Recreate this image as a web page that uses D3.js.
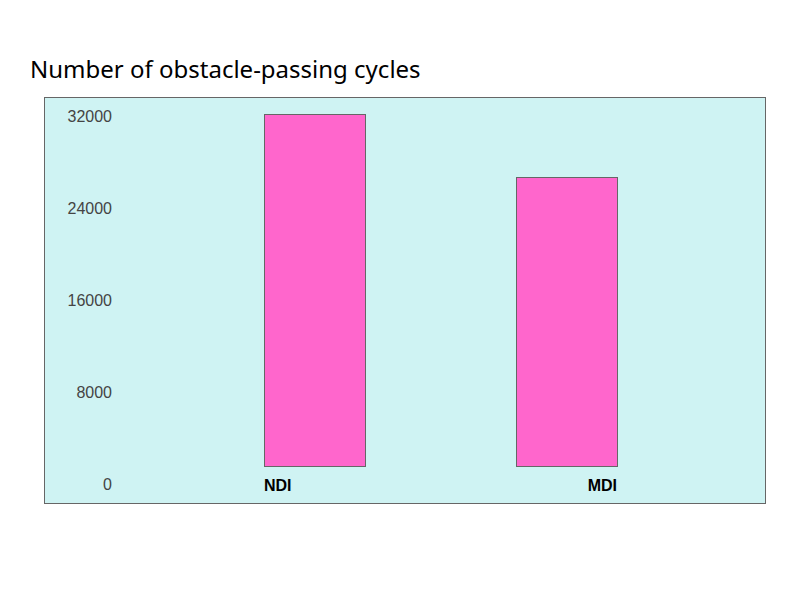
<!DOCTYPE html>
<html>
<head>
<meta charset="utf-8">
<script src="https://cdn.jsdelivr.net/npm/d3@7"></script>
<style>
body { margin: 0; background: #fff; }
</style>
</head>
<body>
<div id="graph"></div>
<script>
var svgWidth = 800;
var svgHeight = 600;

// data
var titleText = "Number of obstacle-passing cycles";
var categories = ["NDI", "MDI"];
var cycles = [30600, 25100];
var yTicks = [0, 8000, 16000, 24000, 32000];

// frame of the plot
var boxLeft = 44, boxTop = 97, boxRight = 765, boxBottom = 503;
var labelFont = "'Liberation Sans', Arial, sans-serif";

var svg = d3.select("#graph")
	.append("svg")
	.attr("width", svgWidth)
	.attr("height", svgHeight);

// title
svg.append("text")
	.attr("x", 30)
	.attr("y", 78)
	.attr("font-family", "'Noto Sans', sans-serif")
	.attr("font-size", 24)
	.attr("fill", "#000")
	.text(titleText);

// plot background
svg.append("rect")
	.attr("x", boxLeft + 0.5)
	.attr("y", boxTop + 0.5)
	.attr("width", boxRight - boxLeft)
	.attr("height", boxBottom - boxTop)
	.attr("fill", "#cff3f3")
	.attr("stroke", "#666")
	.attr("stroke-width", 1);

// scales
var yScale = d3.scaleLinear()
	.domain([0, 32000])
	.range([466, 98]);

var xScale = d3.scalePoint()
	.domain(categories)
	.range([188.5, 692.5])
	.padding(0.5);

var barWidth = 101;

// y axis labels (sit a bit under their value)
var yAxis = svg.append("g")
	.attr("transform", "translate(112,18)")
	.call(d3.axisLeft(yScale).tickValues(yTicks).tickSize(0).tickPadding(0).tickFormat(d3.format("d")));
yAxis.select(".domain").remove();
yAxis.attr("font-family", labelFont).attr("font-size", 16);
yAxis.selectAll("text")
	.attr("fill", "#444");

// bars
svg.append("g")
	.selectAll("rect")
	.data(cycles)
	.enter().append("rect")
	.attr("x", function(d, i) { return Math.round(xScale(categories[i]) - barWidth / 2) + 0.5; })
	.attr("y", function(d) { return Math.round(yScale(d)) + 0.5; })
	.attr("width", barWidth)
	.attr("height", function(d) { return yScale(0) - Math.round(yScale(d)); })
	.attr("fill", "#ff66cc")
	.attr("stroke", "#666")
	.attr("stroke-width", 1);

// category labels: first aligned to the bar's left, last to its right
svg.append("g")
	.attr("font-family", labelFont)
	.attr("font-weight", "bold")
	.attr("font-size", 16)
	.selectAll("text")
	.data(categories)
	.enter().append("text")
	.attr("x", function(d, i) {
		return i === 0 ? xScale(d) - barWidth / 2 : xScale(d) + barWidth / 2;
	})
	.attr("y", 491)
	.attr("text-anchor", function(d, i) { return i === 0 ? "start" : "end"; })
	.attr("fill", "#000")
	.text(function(d) { return d; });
</script>
</body>
</html>
